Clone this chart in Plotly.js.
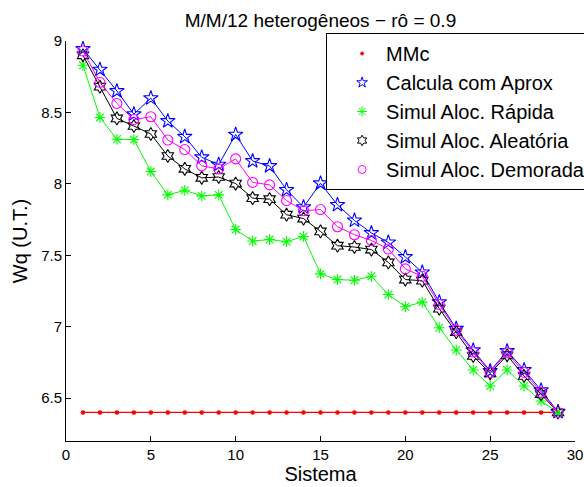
<!DOCTYPE html>
<html>
<head>
<meta charset="utf-8">
<script src="https://cdn.plot.ly/plotly-3.0.1.min.js"></script>
<style>html,body{margin:0;padding:0;background:#fff;}#chart{width:584px;height:487px;}</style>
</head>
<body>
<div id="chart"></div>
<script>
const sistema = [1,2,3,4,5,6,7,8,9,10,11,12,13,14,15,16,17,18,19,20,21,22,23,24,25,26,27,28,29];
const mmc = [6.4,6.4,6.4,6.4,6.4,6.4,6.4,6.4,6.4,6.4,6.4,6.4,6.4,6.4,6.4,6.4,6.4,6.4,6.4,6.4,6.4,6.4,6.4,6.4,6.4,6.4,6.4,6.4,6.4];
const calculaAprox = [8.945,8.80,8.65,8.488,8.60,8.44,8.33,8.186,8.135,8.345,8.16,8.125,7.958,7.837,8.004,7.853,7.744,7.656,7.59,7.488,7.38,7.172,6.986,6.835,6.69,6.83,6.697,6.555,6.404];
const alocRapida = [8.83,8.465,8.312,8.31,8.086,7.923,7.955,7.916,7.923,7.68,7.60,7.61,7.595,7.632,7.37,7.33,7.325,7.353,7.225,7.14,7.172,6.993,6.837,6.697,6.585,6.697,6.585,6.48,6.40];
const alocAleatoria = [8.90,8.68,8.458,8.405,8.349,8.195,8.105,8.042,8.048,8.002,7.90,7.893,7.784,7.757,7.667,7.567,7.558,7.54,7.45,7.33,7.322,7.126,6.962,6.795,6.674,6.80,6.655,6.528,6.40];
const alocDemorada = [8.93,8.71,8.563,8.45,8.47,8.307,8.24,8.126,8.105,8.175,8.01,7.993,7.883,7.812,7.82,7.70,7.644,7.604,7.544,7.405,7.353,7.156,6.976,6.823,6.68,6.818,6.68,6.54,6.40];
const seriesNames = ["MMc","Calcula com Aprox","Simul Aloc. Rápida","Simul Aloc. Aleatória","Simul Aloc. Demorada"];
const yTicks = [6.5,7,7.5,8,8.5,9];
const xTicks = [0,5,10,15,20,25,30];

const F = "Liberation Sans, Arial, Helvetica, sans-serif";
const seriesY = [mmc, calculaAprox, alocRapida, alocAleatoria, alocDemorada];
const colors = ["#ff0000", "#0000ff", "#00ff00", "#000000", "#ff00ff"];
const symbols = ["circle", "star-open", "asterisk-open", "hexagram-open", "circle-open"];
const plotSizes = [3.5, 11, 9, 10, 10];
const legendSizes = [3, 8, 8, 8, 8];
const lineWidths = [1.2, 1, 1, 1, 1];

const traces = [];
seriesY.forEach((ys, i) => {
  traces.push({x: sistema, y: ys, name: seriesNames[i], mode: "lines+markers", showlegend: false,
    line: {color: colors[i], width: lineWidths[i]},
    marker: {symbol: symbols[i], size: plotSizes[i], color: colors[i], line: {width: 1.1, color: colors[i]}}});
});
// legend entries (markers only, as in the reference legend)
seriesY.forEach((ys, i) => {
  traces.push({x: [null], y: [null], name: seriesNames[i], mode: "markers", showlegend: true,
    marker: {symbol: symbols[i], size: legendSizes[i], color: colors[i], line: {width: 1, color: colors[i]}}});
});

const layout = {
  width: 584, height: 487,
  margin: {l: 66, r: 9, t: 41, b: 46, autoexpand: false},
  paper_bgcolor: "#ffffff", plot_bgcolor: "#ffffff",
  font: {family: F, color: "#000000", size: 15},
  title: {text: "M/M/12 heterogêneos − rô = 0.9", font: {family: F, size: 19, color: "#000"}, x: 0.5, xref: "paper", y: 0.959, yref: "container", xanchor: "center", yanchor: "middle"},
  xaxis: {range: [0, 30], tickvals: xTicks, ticktext: xTicks.map(String), ticks: "inside", ticklen: 5, tickcolor: "#000",
          showline: true, linecolor: "#000", linewidth: 1, showgrid: false, zeroline: false, mirror: false,
          tickfont: {family: F, size: 15}, automargin: false,
          title: {text: "Sistema", font: {family: F, size: 20}, standoff: 2}},
  yaxis: {range: [6.2, 9], tickvals: yTicks, ticktext: yTicks.map(String), ticks: "inside", ticklen: 5, tickcolor: "#000",
          showline: true, linecolor: "#000", linewidth: 1, showgrid: false, zeroline: false, mirror: false,
          tickfont: {family: F, size: 15}, automargin: false,
          title: {text: "Wq (U.T.)", font: {family: F, size: 20}, standoff: 8}},
  showlegend: true,
  legend: {x: 0.511, xanchor: "left", y: 1.02, yanchor: "top", bgcolor: "#ffffff", bordercolor: "#000", borderwidth: 1,
           font: {family: F, size: 20}, itemwidth: 38, indentation: 11, tracegroupgap: 0},
};
Plotly.newPlot("chart", traces, layout, {displayModeBar: false, staticPlot: true});
</script>
</body>
</html>
